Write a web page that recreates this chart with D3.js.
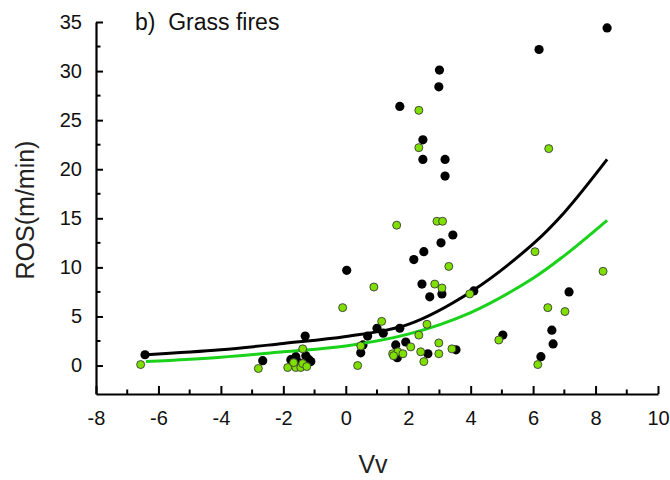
<!DOCTYPE html>
<html>
<head>
<meta charset="utf-8">
<script src="https://cdn.jsdelivr.net/npm/d3@7"></script>
<style>
  html, body { margin: 0; padding: 0; background: #fff; }
  svg { display: block; font-family: "Liberation Sans", Arial, sans-serif; }
</style>
</head>
<body>
<svg id="chart" width="670" height="480"></svg>
<script>
// ---- data ----
const blackX = [-6.43, -2.66, -1.30, -1.60, -1.76, -1.28, -1.18, -1.12, -1.50, 0.03,
  0.55, 0.48, 0.70, 1.00, 1.20, 1.73, 1.60, 1.65, 1.92, 2.18,
  2.50, 2.44, 2.69, 2.63, 3.05, 3.00, 2.98, 1.73, 2.47, 2.47,
  3.18, 3.18, 3.43, 3.08, 4.10, 5.03, 7.15, 6.60, 6.64, 6.25,
  3.53, 8.37, 6.19];
const blackY = [1.1, 0.5, 3.0, 0.9, 0.6, 1.0, 0.6, 0.4, 0.3, 9.7,
  2.1, 1.3, 3.0, 3.8, 3.3, 3.8, 2.1, 0.8, 2.4, 10.8,
  11.6, 8.3, 7.0, 1.2, 12.5, 30.1, 28.4, 26.4, 23.0, 21.0,
  21.0, 19.3, 13.3, 7.3, 7.6, 3.1, 7.5, 3.6, 2.2, 0.9,
  1.6, 34.4, 32.2];

const greenX = [-6.57, -2.80, -1.38, -1.86, -1.60, -1.67, -1.44, -1.38, -1.25, -0.10,
  0.38, 0.48, 0.90, 1.15, 1.50, 1.67, 1.53, 1.83, 2.08, 2.34,
  2.60, 2.40, 2.50, 2.98, 2.98, 3.40, 2.85, 3.08, 3.30, 3.97,
  2.34, 2.34, 1.63, 2.92, 3.10, 4.90, 6.06, 8.24, 6.47, 7.02,
  6.15, 6.50];
const greenY = [0.1, -0.3, 1.7, -0.2, -0.2, 0.3, -0.2, 0.2, -0.1, 5.9,
  0.0, 2.0, 8.0, 4.5, 1.2, 1.4, 1.0, 1.2, 1.9, 3.1,
  4.2, 1.4, 0.4, 2.3, 1.2, 1.7, 8.3, 7.9, 10.1, 7.3,
  26.0, 22.2, 14.3, 14.7, 14.7, 2.6, 11.6, 9.6, 5.9, 5.5,
  0.1, 22.1];

// fitted curves
const fitBlackX = [-6.4, -4, -2, 0, 2, 4, 6, 7, 8.37];
const fitBlackY = [1.1, 1.6, 2.25, 2.95, 4.2, 7.5, 12.4, 15.6, 21.0];
const fitGreenX = [-6.4, -4, -2, 0, 2, 4, 6, 7, 8.37];
const fitGreenY = [0.4, 0.85, 1.4, 2.0, 3.2, 5.4, 8.9, 11.2, 14.8];

const xMajor = [-8, -6, -4, -2, 0, 2, 4, 6, 8, 10];
const xMinor = [-7, -5, -3, -1, 1, 3, 5, 7, 9];
const yMajor = [0, 5, 10, 15, 20, 25, 30, 35];
const yMinor = [2.5, 7.5, 12.5, 17.5, 22.5, 27.5, 32.5];

const titleText = "b)  Grass fires";
const xLabel = "Vv";
const yLabel = "ROS(m/min)";

// ---- drawing ----
const svg = d3.select("#chart");
const x = d3.scaleLinear().domain([-8, 10]).range([96, 658]);
const y = d3.scaleLinear().domain([-2.9, 35]).range([394, 22]);

// curves
const line = d3.line().x(d => x(d[0])).y(d => y(d[1])).curve(d3.curveCatmullRom.alpha(0.5));
const blackFit = fitBlackX.map((v, i) => [v, fitBlackY[i]]);
const greenFit = fitGreenX.map((v, i) => [v, fitGreenY[i]]);

// points
svg.append("g").selectAll("circle").data(blackX.map((v, i) => [v, blackY[i]]))
  .join("circle")
  .attr("cx", d => x(d[0])).attr("cy", d => y(d[1])).attr("r", 4.6)
  .attr("fill", "#000");

svg.append("path").datum(blackFit).attr("d", line)
  .attr("fill", "none").attr("stroke", "#000").attr("stroke-width", 3);
svg.append("path").datum(greenFit).attr("d", line)
  .attr("fill", "none").attr("stroke", "#19d219").attr("stroke-width", 3);

svg.append("g").selectAll("circle").data(greenX.map((v, i) => [v, greenY[i]]))
  .join("circle")
  .attr("cx", d => x(d[0])).attr("cy", d => y(d[1])).attr("r", 4)
  .attr("fill", "#7fe000").attr("stroke", "#3a3a3a").attr("stroke-width", 0.9);

// axes
const xAxis = d3.axisBottom(x).tickValues(xMajor).tickSizeInner(-8).tickSizeOuter(0).tickPadding(17)
  .tickFormat(d3.format("d"));
const gx = svg.append("g").attr("transform", `translate(0,${y(-2.9)})`).call(xAxis);
gx.select(".domain").attr("stroke-width", 2.2);
gx.selectAll(".tick line").attr("stroke-width", 2);
gx.selectAll("text").attr("font-size", 20).attr("fill", "#111")
  .text(d => d < 0 ? "-" + Math.abs(d) : d);
gx.append("g").selectAll("line").data(xMinor).join("line")
  .attr("x1", d => x(d)).attr("x2", d => x(d)).attr("y1", 0).attr("y2", -4.5)
  .attr("stroke", "#000").attr("stroke-width", 2);

const yAxis = d3.axisLeft(y).tickValues(yMajor).tickSizeInner(-7).tickSizeOuter(0).tickPadding(14);
const gy = svg.append("g").attr("transform", `translate(${x(-8)},0)`).call(yAxis);
gy.select(".domain").attr("stroke-width", 2.2);
gy.selectAll(".tick line").attr("stroke-width", 2);
gy.selectAll("text").attr("font-size", 20).attr("fill", "#111");
gy.append("g").selectAll("line").data(yMinor).join("line")
  .attr("y1", d => y(d)).attr("y2", d => y(d)).attr("x1", 0).attr("x2", 4.5)
  .attr("stroke", "#000").attr("stroke-width", 2);

// labels
svg.append("text").attr("x", 135).attr("y", 30).attr("font-size", 23).attr("fill", "#111")
  .attr("xml:space", "preserve").style("white-space", "pre").text(titleText);
svg.append("text").attr("x", 373).attr("y", 473).attr("text-anchor", "middle")
  .attr("font-size", 25).attr("fill", "#222").text(xLabel);
svg.append("text").attr("transform", "translate(34,210) rotate(-90)")
  .attr("text-anchor", "middle").attr("font-size", 25).attr("fill", "#222").text(yLabel);
</script>
</body>
</html>
